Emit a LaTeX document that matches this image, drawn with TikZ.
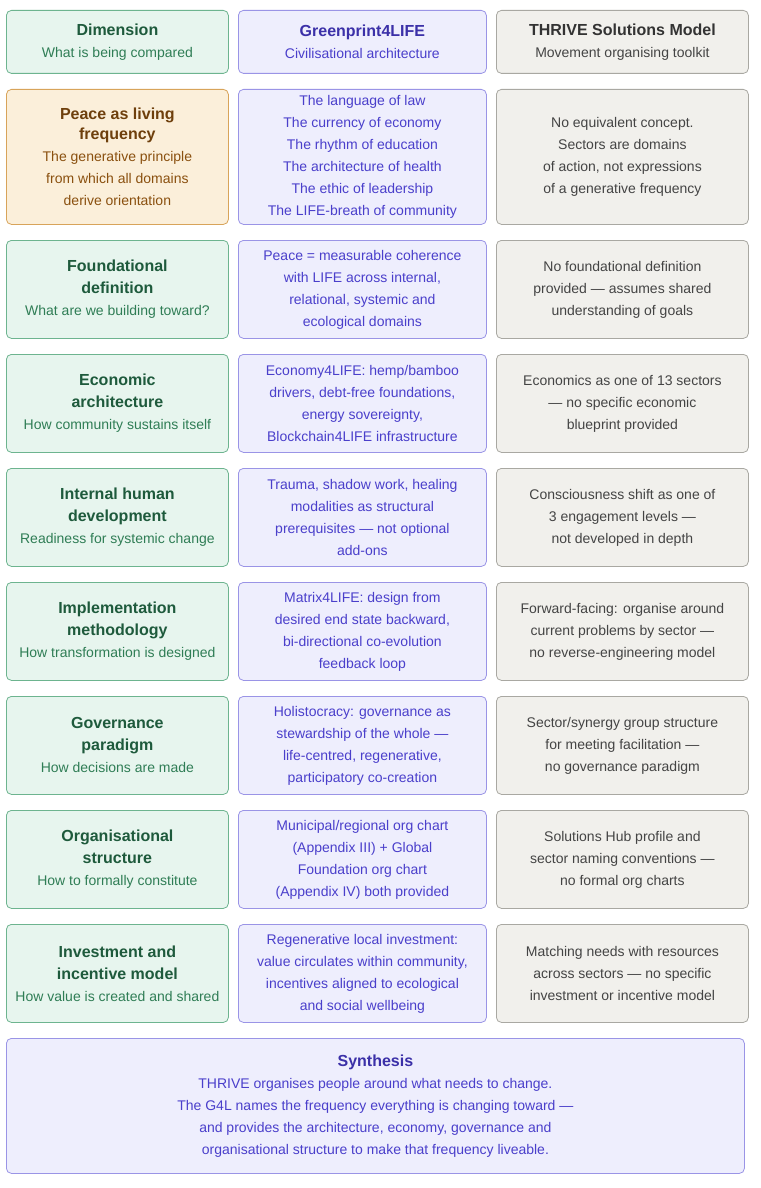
\documentclass[tikz,border=0pt]{standalone}
\usepackage{fontspec}
\setmainfont{Liberation Sans}
\definecolor{gF}{HTML}{E7F5EE}\definecolor{gB}{HTML}{6DB48F}\definecolor{gT}{HTML}{1E5A3C}\definecolor{gS}{HTML}{2F7D55}
\definecolor{oF}{HTML}{FBEFDA}\definecolor{oB}{HTML}{D8A45A}\definecolor{oT}{HTML}{6E3F0C}\definecolor{oS}{HTML}{8A500F}
\definecolor{pF}{HTML}{EEEEFD}\definecolor{pB}{HTML}{9A94E6}\definecolor{pT}{HTML}{3B30A8}\definecolor{pS}{HTML}{4A3FCB}
\definecolor{nF}{HTML}{F1F0EC}\definecolor{nB}{HTML}{A9A8A2}\definecolor{nT}{HTML}{333333}\definecolor{nS}{HTML}{444444}
\newcommand{\ti}[1]{{\fontsize{16}{22}\selectfont\bfseries #1}}
\tikzset{x=1pt,y=-1pt,
 cell/.style={draw,rounded corners=5pt,line width=0.8pt,anchor=north west,align=center,inner sep=0pt,font=\fontsize{14}{22}\selectfont},
 g/.style={cell,fill=gF,draw=gB,text=gS},
 o/.style={cell,fill=oF,draw=oB,text=oS},
 p/.style={cell,fill=pF,draw=pB,text=pS},
 n/.style={cell,fill=nF,draw=nB,text=nS}}
\newcommand{\cell}[7]{\node[#6,minimum width=#4-#2,minimum height=#5-#3] (#1) at (#2,#3) {#7};}
\begin{document}
\begin{tikzpicture}
\useasboundingbox[fill=white] (0,0) rectangle (760,1188);
% header
\cell{h1}{6}{10}{228}{73}{g}{\textcolor{gT}{\ti{Dimension}}\\What is being compared}
\cell{h2}{238}{10}{486}{73}{p}{\textcolor{pT}{\ti{Greenprint4LIFE}}\\Civilisational architecture}
\cell{h3}{496}{10}{748}{73}{n}{\textcolor{nT}{\ti{THRIVE Solutions Model}}\\Movement organising toolkit}
% row 1
\cell{a1}{6}{89}{228}{224}{o}{\textcolor{oT}{\ti{Peace as living}}\\[-2pt]\textcolor{oT}{\ti{frequency}}\\The generative principle\\from which all domains\\derive orientation}
\cell{b1}{238}{89}{486}{224}{p}{The language of law\\The currency of economy\\The rhythm of education\\The architecture of health\\The ethic of leadership\\The LIFE-breath of community}
\cell{c1}{496}{89}{748}{224}{n}{No equivalent concept.\\Sectors are domains\\of action, not expressions\\of a generative frequency}
% row 2
\cell{a2}{6}{240}{228}{338}{g}{\textcolor{gT}{\ti{Foundational}}\\\textcolor{gT}{\ti{definition}}\\What are we building toward?}
\cell{b2}{238}{240}{486}{338}{p}{Peace = measurable coherence\\with LIFE across internal,\\relational, systemic and\\ecological domains}
\cell{c2}{496}{240}{748}{338}{n}{No foundational definition\\provided — assumes shared\\understanding of goals}
% row 3
\cell{a3}{6}{354}{228}{452}{g}{\textcolor{gT}{\ti{Economic}}\\\textcolor{gT}{\ti{architecture}}\\How community sustains itself}
\cell{b3}{238}{354}{486}{452}{p}{Economy4LIFE: hemp/bamboo\\drivers, debt-free foundations,\\energy sovereignty,\\Blockchain4LIFE infrastructure}
\cell{c3}{496}{354}{748}{452}{n}{Economics as one of 13 sectors\\— no specific economic\\blueprint provided}
% row 4
\cell{a4}{6}{468}{228}{566}{g}{\textcolor{gT}{\ti{Internal human}}\\\textcolor{gT}{\ti{development}}\\Readiness for systemic change}
\cell{b4}{238}{468}{486}{566}{p}{Trauma, shadow work, healing\\modalities as structural\\prerequisites — not optional\\add-ons}
\cell{c4}{496}{468}{748}{566}{n}{Consciousness shift as one of\\3 engagement levels —\\not developed in depth}
% row 5
\cell{a5}{6}{582}{228}{680}{g}{\textcolor{gT}{\ti{Implementation}}\\\textcolor{gT}{\ti{methodology}}\\How transformation is designed}
\cell{b5}{238}{582}{486}{680}{p}{Matrix4LIFE: design from\\desired end state backward,\\bi-directional co-evolution\\feedback loop}
\cell{c5}{496}{582}{748}{680}{n}{Forward-facing: organise around\\current problems by sector —\\no reverse-engineering model}
% row 6
\cell{a6}{6}{696}{228}{794}{g}{\textcolor{gT}{\ti{Governance}}\\\textcolor{gT}{\ti{paradigm}}\\How decisions are made}
\cell{b6}{238}{696}{486}{794}{p}{Holistocracy: governance as\\stewardship of the whole —\\life-centred, regenerative,\\participatory co-creation}
\cell{c6}{496}{696}{748}{794}{n}{Sector/synergy group structure\\for meeting facilitation —\\no governance paradigm}
% row 7
\cell{a7}{6}{810}{228}{908}{g}{\textcolor{gT}{\ti{Organisational}}\\\textcolor{gT}{\ti{structure}}\\How to formally constitute}
\cell{b7}{238}{810}{486}{908}{p}{Municipal/regional org chart\\(Appendix III) + Global\\Foundation org chart\\(Appendix IV) both provided}
\cell{c7}{496}{810}{748}{908}{n}{Solutions Hub profile and\\sector naming conventions —\\no formal org charts}
% row 8
\cell{a8}{6}{924}{228}{1022}{g}{\textcolor{gT}{\ti{Investment and}}\\\textcolor{gT}{\ti{incentive model}}\\How value is created and shared}
\cell{b8}{238}{924}{486}{1022}{p}{Regenerative local investment:\\value circulates within community,\\incentives aligned to ecological\\and social wellbeing}
\cell{c8}{496}{924}{748}{1022}{n}{Matching needs with resources\\across sectors — no specific\\investment or incentive model}
% synthesis
\cell{s}{6}{1038}{744}{1173}{p}{\textcolor{pT}{\ti{Synthesis}}\\THRIVE organises people around what needs to change.\\The G4L names the frequency everything is changing toward —\\and provides the architecture, economy, governance and\\organisational structure to make that frequency liveable.}
\end{tikzpicture}
\end{document}
